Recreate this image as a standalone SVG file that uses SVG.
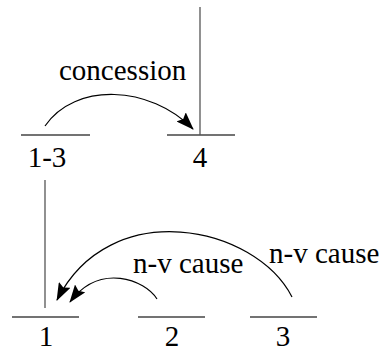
<svg xmlns="http://www.w3.org/2000/svg" width="381" height="351" viewBox="0 0 381 351">
<defs>
<style>
.node{stroke:#444;stroke-width:1.3;fill:none}
.span{stroke:#555;stroke-width:1.3;fill:none}
.arc{stroke:#000;stroke-width:1.2;fill:none;marker-end:url(#ah)}
text{font-family:"Liberation Serif","Times New Roman",serif;font-size:29px;fill:#000}
.c{text-anchor:middle}
</style>
<marker id="ah" viewBox="0 0 18 13" refX="17" refY="6.5" markerWidth="18" markerHeight="13" markerUnits="userSpaceOnUse" orient="auto">
<path d="M0,0 L18,6.5 L0,13 L3,6.5 z" fill="#000"/>
</marker>
</defs>
<g id="n13">
<line class="node" x1="21" y1="135" x2="90" y2="135"/>
<line class="span" x1="45" y1="180" x2="45" y2="308"/>
<text class="c" x="47" y="167">1-3</text>
</g>
<g id="n4">
<line class="node" x1="167" y1="135" x2="235" y2="135"/>
<line class="span" x1="200" y1="7" x2="200" y2="135"/>
<text class="c" x="200" y="167">4</text>
</g>
<g id="n1">
<line class="node" x1="12" y1="317" x2="79" y2="317"/>
<text class="c" x="46" y="346">1</text>
</g>
<g id="n2">
<line class="node" x1="138" y1="317" x2="205" y2="317"/>
<text class="c" x="172" y="346">2</text>
</g>
<g id="n3">
<line class="node" x1="250" y1="317" x2="317" y2="317"/>
<text class="c" x="283" y="346">3</text>
</g>
<g id="connectors">
<path class="arc" d="M45,126 C75,82 150,85 193,129"/>
<text x="59" y="80">concession</text>
<path class="arc" d="M292,297 C255,225 110,195 57,300"/>
<text x="269" y="263">n-v cause</text>
<path class="arc" d="M157,299 C145,280 100,262 70,302"/>
<text x="133" y="273">n-v cause</text>
</g>
</svg>
